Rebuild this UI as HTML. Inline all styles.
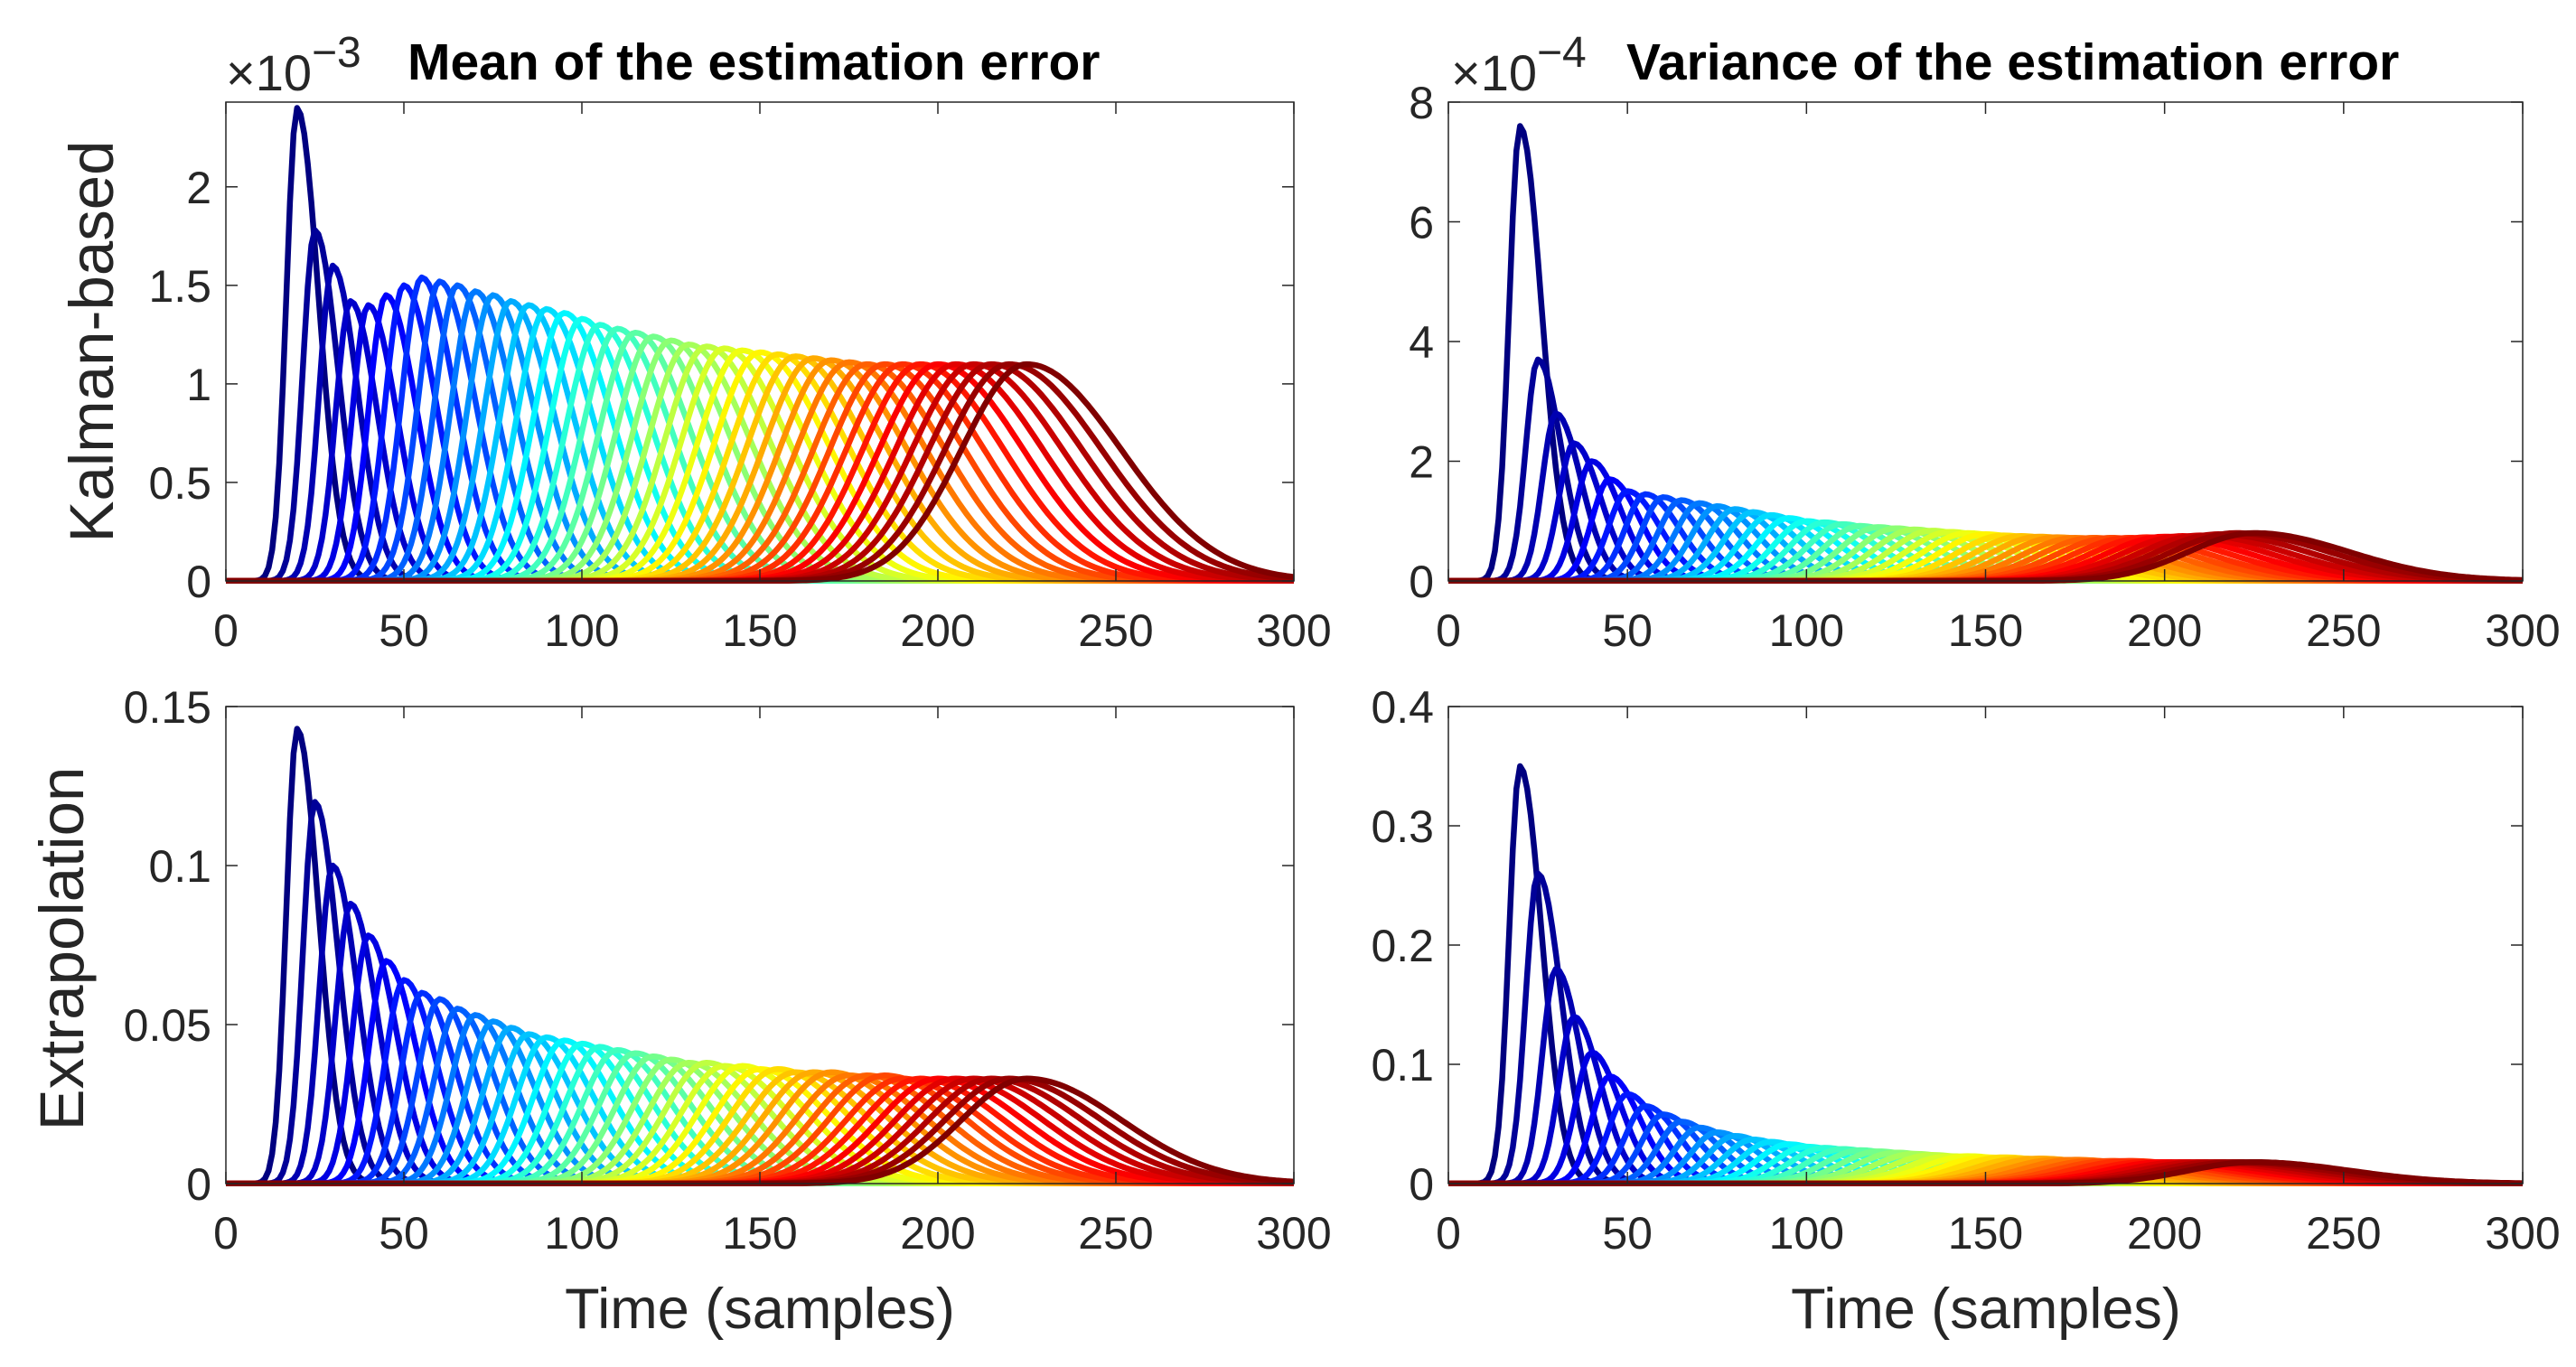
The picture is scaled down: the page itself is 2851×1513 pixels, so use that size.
<!DOCTYPE html>
<html><head><meta charset="utf-8"><style>
html,body{margin:0;padding:0;background:#fff;}
svg{display:block;font-family:"Liberation Sans",Arial,sans-serif;}
</style></head><body>
<svg id="fig" width="2851" height="1513" viewBox="0 0 2851 1513" xmlns="http://www.w3.org/2000/svg"></svg>
<script>
// ---- data ----
const peakTimes = [20,25,30,35,40,45,50,55,60,65,70,75,80,85,90,95,100,105,110,115,120,125,130,135,140,145,150,155,160,165,170,175,180,185,190,195,200,205,210,215,220,225];
const meanKalmanPeaks = [2.4,1.78,1.6,1.42,1.40,1.45,1.50,1.54,1.52,1.50,1.47,1.45,1.42,1.40,1.38,1.36,1.33,1.30,1.28,1.26,1.24,1.22,1.20,1.19,1.18,1.17,1.16,1.15,1.14,1.13,1.12,1.11,1.10,1.10,1.10,1.10,1.10,1.10,1.10,1.10,1.10,1.10];
const varKalmanPeaks = [7.6,3.7,2.8,2.3,2.0,1.7,1.5,1.45,1.4,1.35,1.3,1.25,1.2,1.15,1.1,1.05,1.0,0.98,0.95,0.92,0.9,0.88,0.86,0.84,0.82,0.8,0.78,0.76,0.75,0.74,0.73,0.72,0.72,0.72,0.72,0.73,0.74,0.75,0.76,0.78,0.8,0.8];
const meanExtrapPeaks = [0.143,0.12,0.10,0.088,0.078,0.070,0.064,0.060,0.058,0.055,0.053,0.051,0.049,0.047,0.046,0.045,0.044,0.043,0.042,0.041,0.040,0.039,0.038,0.038,0.037,0.037,0.036,0.036,0.035,0.035,0.035,0.034,0.034,0.034,0.033,0.033,0.033,0.033,0.033,0.033,0.033,0.033];
const varExtrapPeaks = [0.35,0.26,0.18,0.14,0.11,0.09,0.075,0.065,0.058,0.052,0.047,0.043,0.040,0.037,0.035,0.033,0.031,0.030,0.029,0.028,0.027,0.026,0.025,0.024,0.023,0.023,0.022,0.022,0.021,0.021,0.020,0.020,0.019,0.019,0.019,0.018,0.018,0.018,0.018,0.018,0.018,0.018];
const xTicks = [0,50,100,150,200,250,300];
const yTicksTL = [0,0.5,1,1.5,2];
const yTicksTR = [0,2,4,6,8];
const yTicksBL = [0,0.05,0.1,0.15];
const yTicksBR = [0,0.1,0.2,0.3,0.4];
const yTickLabelsTL = ["0","0.5","1","1.5","2"];
const yTickLabelsTR = ["0","2","4","6","8"];
const yTickLabelsBL = ["0","0.05","0.1","0.15"];
const yTickLabelsBR = ["0","0.1","0.2","0.3","0.4"];

const NS="http://www.w3.org/2000/svg";
const svg=document.getElementById('fig');
function mk(tag,attrs,parent){const e=document.createElementNS(NS,tag);for(const k in attrs)e.setAttribute(k,attrs[k]);(parent||svg).appendChild(e);return e;}
function jet(t){
  const r=Math.max(0,Math.min(1,1.5-Math.abs(4*t-3)));
  const g=Math.max(0,Math.min(1,1.5-Math.abs(4*t-2)));
  const b=Math.max(0,Math.min(1,1.5-Math.abs(4*t-1)));
  return `rgb(${Math.round(r*255)},${Math.round(g*255)},${Math.round(b*255)})`;
}
function shape(t,p,h){
  const sl=3+0.075*(p-20), sr=6+0.1*(p-20);
  const s=t<p?sl:sr, d=(t-p)/s;
  return h*Math.exp(-0.5*d*d);
}
function panel(name,x0,x1,y0,y1,ymax,peaks,yt,ytl){
  const g=mk('g',{});
  
  
  const sx=v=>x0+(v/300)*(x1-x0);
  const sy=v=>y1-(v/ymax)*(y1-y0);
  const clipId='c'+name;
  const cp=mk('clipPath',{id:clipId},g);mk('rect',{x:x0,y:y0-3,width:x1-x0,height:y1-y0+6},cp);
  const lines=mk('g',{'clip-path':`url(#${clipId})`},g);
  const N=peaks.length;
  for(let i=0;i<N;i++){
    let d='';
    for(let t=0;t<=300;t+=1){d+=(t?'L':'M')+sx(t).toFixed(1)+','+sy(shape(t,peakTimes[i],peaks[i])).toFixed(1);}
    const pth=mk('path',{d:d,fill:'none',stroke:jet(i/(N-1)),'stroke-width':6.5,'stroke-linejoin':'round'},lines);
    
    
  }
  mk('rect',{x:x0,y:y0,width:x1-x0,height:y1-y0,fill:'none',stroke:'#262626','stroke-width':1.5},g);
  xTicks.forEach(v=>{
    const x=sx(v);
    mk('line',{x1:x,x2:x,y1:y1,y2:y1-13,stroke:'#262626','stroke-width':1.5},g);
    mk('line',{x1:x,x2:x,y1:y0,y2:y0+13,stroke:'#262626','stroke-width':1.5},g);
    const tx=mk('text',{x:x,y:y1+72,'font-size':50,'text-anchor':'middle',fill:'#262626'},g);
    tx.textContent=v;
    
    
  });
  yt.forEach((v,i)=>{
    const y=sy(v);
    mk('line',{x1:x0,x2:x0+13,y1:y,y2:y,stroke:'#262626','stroke-width':1.5},g);
    mk('line',{x1:x1,x2:x1-13,y1:y,y2:y,stroke:'#262626','stroke-width':1.5},g);
    const tx=mk('text',{x:x0-16,y:y+18,'font-size':50,'text-anchor':'end',fill:'#262626'},g);
    tx.textContent=ytl[i];
    
    
  });
}
panel('mean-kalman-plot',250,1432,113,643,2.43,meanKalmanPeaks,yTicksTL,yTickLabelsTL);
panel('variance-kalman-plot',1603,2792,113,643,8,varKalmanPeaks,yTicksTR,yTickLabelsTR);
panel('mean-extrapolation-plot',250,1432,782,1310,0.15,meanExtrapPeaks,yTicksBL,yTickLabelsBL);
panel('variance-extrapolation-plot',1603,2792,782,1310,0.4,varExtrapPeaks,yTicksBR,yTickLabelsBR);
</script>
<svg style="position:absolute;left:0;top:0" width="2851" height="1513" xmlns="http://www.w3.org/2000/svg">
<text x="250" y="100" font-size="56" fill="#262626">×10<tspan dy="-26" font-size="48">−3</tspan></text>
<text x="451" y="88" font-size="57" font-weight="bold" fill="#000">Mean of the estimation error</text>
<text x="1606" y="100" font-size="56" fill="#262626">×10<tspan dy="-26" font-size="48">−4</tspan></text>
<text x="1800" y="88" font-size="57" font-weight="bold" fill="#000">Variance of the estimation error</text>
<text transform="translate(125,378) rotate(-90)" font-size="69" text-anchor="middle" fill="#262626">Kalman-based</text>
<text transform="translate(92,1050) rotate(-90)" font-size="69" text-anchor="middle" fill="#262626">Extrapolation</text>
<text x="841" y="1470" font-size="63" text-anchor="middle" fill="#262626">Time (samples)</text>
<text x="2198" y="1470" font-size="63" text-anchor="middle" fill="#262626">Time (samples)</text>
</svg>
</body></html>
